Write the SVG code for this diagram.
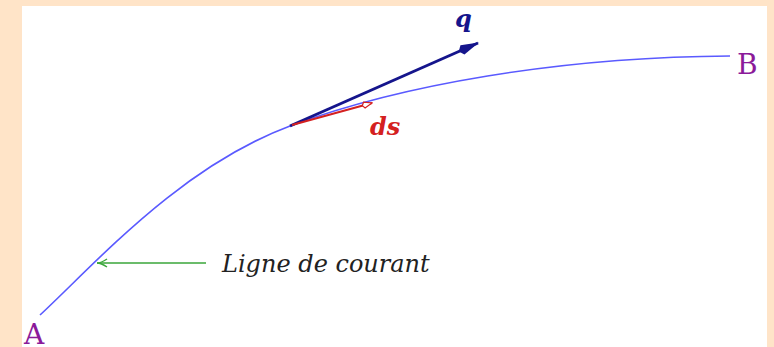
<svg xmlns="http://www.w3.org/2000/svg" width="774" height="347" viewBox="0 0 774 347">
<style>
.lbl{font-family:"DejaVu Serif","Liberation Serif",serif;}
.pt{fill:#8b1a9a;font-size:28px;}
</style>
<defs>
<marker id="mq" viewBox="0 0 22 12" refX="21" refY="6" markerWidth="22" markerHeight="12" markerUnits="userSpaceOnUse" orient="auto">
<path d="M0,6 L4,1 L22,6 L4,11 Z" fill="#15158c"/>
</marker>
<marker id="mds" viewBox="0 0 12 8" refX="11" refY="4" markerWidth="12" markerHeight="8" markerUnits="userSpaceOnUse" orient="auto">
<path d="M1,4 L3,1 L11,4 L3,7 Z" fill="#fff" stroke="#d42020" stroke-width="1.2"/>
</marker>
<marker id="mg" viewBox="0 0 12 10" refX="11" refY="5" markerWidth="12" markerHeight="10" markerUnits="userSpaceOnUse" orient="auto">
<path d="M1,1 Q7,5 11,5 Q7,5 1,9" fill="none" stroke="#3aa63a" stroke-width="1.5"/>
</marker>
</defs>
<rect width="774" height="347" fill="#ffe4c8"/>
<rect x="22" y="6" width="745" height="341" fill="#fff"/>
<g id="streamline">
<path d="M40,315 C 97,262 180,167 290,126 C 400,85 560,57 730,56" fill="none" stroke="#5a5aff" stroke-width="1.6"/>
</g>
<g id="connectors">
<line x1="290" y1="126" x2="478" y2="43" stroke="#15158c" stroke-width="3" marker-end="url(#mq)"/>
<line x1="292" y1="125" x2="372" y2="103" stroke="#d42020" stroke-width="2" marker-end="url(#mds)"/>
<line x1="206" y1="263" x2="97" y2="263" stroke="#3aa63a" stroke-width="1.6" marker-end="url(#mg)"/>
</g>
<g id="label-A"><text class="lbl pt" x="24" y="344">A</text></g>
<g id="label-B"><text class="lbl pt" x="737" y="74">B</text></g>
<g id="label-q"><text class="lbl" x="455" y="27" font-size="24" font-style="italic" font-weight="bold" fill="#15158c">q</text></g>
<g id="label-ds"><text class="lbl" x="370" y="135" font-size="24" font-style="italic" font-weight="bold" fill="#d42020">ds</text></g>
<g id="label-ligne"><text class="lbl" x="222" y="272" font-size="24" font-style="italic" fill="#222">Ligne de courant</text></g>
</svg>
